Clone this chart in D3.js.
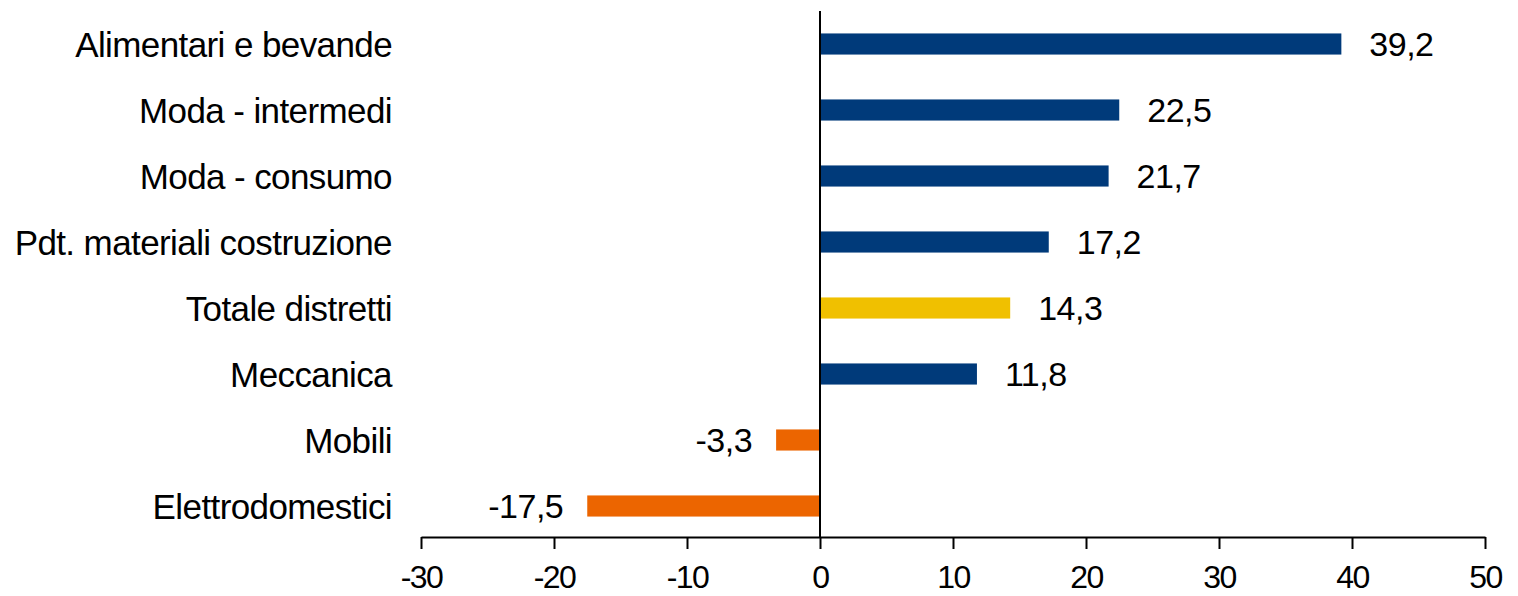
<!DOCTYPE html>
<html><head><meta charset="utf-8">
<script src="https://cdn.jsdelivr.net/npm/d3@7"></script>
<style>body{margin:0;background:#fff}svg{display:block}text{font-family:"Liberation Sans",Arial,sans-serif;fill:#000}</style>
</head><body>
<svg id="c" width="1518" height="596"></svg>
<script>
const categories = ["Alimentari e bevande","Moda - intermedi","Moda - consumo","Pdt. materiali costruzione","Totale distretti","Meccanica","Mobili","Elettrodomestici"];
const values = [39.2,22.5,21.7,17.2,14.3,11.8,-3.3,-17.5];
const xTicks = [-30,-20,-10,0,10,20,30,40,50];
const colorPos = "#003A7A", colorNeg = "#EC6500", colorTot = "#F0C000";

const svg = d3.select("#c");
const x = d3.scaleLinear().domain([-30,50]).range([421,1485]);
const y = d3.scaleBand().domain(categories).range([11,539]).paddingInner(0.68).paddingOuter(0.34);
const axisY = 537;

svg.selectAll("rect.bar").data(values).enter().append("rect")
  .attr("class","bar")
  .attr("x", d => x(Math.min(0,d)))
  .attr("width", d => Math.abs(x(d)-x(0)))
  .attr("y", (d,i) => y(categories[i]))
  .attr("height", y.bandwidth())
  .attr("fill", (d,i) => categories[i]==="Totale distretti" ? colorTot : (d<0 ? colorNeg : colorPos));

// x axis
const xa = svg.append("g").attr("transform",`translate(0,${axisY})`)
  .call(d3.axisBottom(x).tickValues(xTicks).tickSize(12).tickSizeOuter(0).tickFormat(d=>String(d)));
xa.select(".domain").attr("stroke","#000").attr("stroke-width",2);
xa.selectAll(".tick line").attr("stroke","#000").attr("stroke-width",2);
xa.selectAll(".tick text").attr("font-size",32).attr("dy",0).attr("y",51)
  .attr("font-family","'Liberation Sans',Arial,sans-serif").attr("letter-spacing","-1.5").attr("fill","#000");

// vertical zero line
svg.append("line").attr("x1",x(0)).attr("x2",x(0)).attr("y1",11).attr("y2",axisY)
  .attr("stroke","#000").attr("stroke-width",2);

// category labels
svg.selectAll("text.cat").data(categories).enter().append("text")
  .attr("class","cat")
  .attr("x",392).attr("y", d => y(d)+y.bandwidth()/2)
  .attr("dy","0.36em").attr("text-anchor","end")
  .attr("font-size",35).attr("letter-spacing","-0.6")
  .text(d=>d);

// value labels
svg.selectAll("text.val").data(values).enter().append("text")
  .attr("class","val")
  .attr("x", d => d<0 ? x(d)-24 : x(d)+28)
  .attr("y", (d,i) => y(categories[i])+y.bandwidth()/2)
  .attr("dy","0.36em").attr("text-anchor", d => d<0 ? "end":"start")
  .attr("font-size",34).attr("letter-spacing","-0.5")
  .text(d => d3.format(".1f")(d).replace(".",",").replace("−","-"));
</script>
</body></html>
